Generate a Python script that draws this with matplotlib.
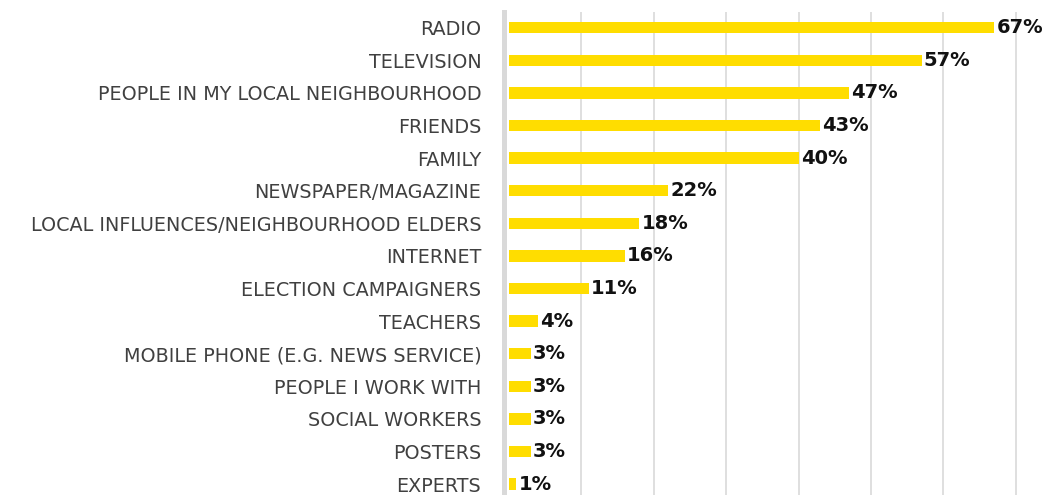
import matplotlib.pyplot as plt

plt.rcParams['font.family'] = ['DejaVu Sans']

# sources of information (share of respondents, %)
categories = ['RADIO', 'TELEVISION', 'PEOPLE IN MY LOCAL NEIGHBOURHOOD', 'FRIENDS',
              'FAMILY', 'NEWSPAPER/MAGAZINE', 'LOCAL INFLUENCES/NEIGHBOURHOOD ELDERS',
              'INTERNET', 'ELECTION CAMPAIGNERS', 'TEACHERS',
              'MOBILE PHONE (E.G. NEWS SERVICE)', 'PEOPLE I WORK WITH',
              'SOCIAL WORKERS', 'POSTERS', 'EXPERTS']
values = [67, 57, 47, 43, 40, 22, 18, 16, 11, 4, 3, 3, 3, 3, 1]
value_labels = [f'{v}%' for v in values]

W, H = 1060, 495
fig = plt.figure(figsize=(W / 100, H / 100), dpi=100)

# axes box in pixels: left spine ~503px, top ~12px, runs to bottom/right edges
px_left, px_top = 503.5, 12
ax = fig.add_axes([px_left / W, 0, 1 - px_left / W, 1 - px_top / H])

pos = list(range(len(categories)))
ax.barh(pos, values, height=0.35, color='#FFDD00', zorder=3)

for p, v, lab in zip(pos, values, value_labels):
    ax.text(v + 0.3, p, lab, va='center', ha='left', fontsize=14,
            fontweight='bold', color='#111111', zorder=4)

px_per_unit = 7.24
ax.set_xlim(-(509 - px_left) / px_per_unit, (W - 509) / px_per_unit)
ax.set_ylim(14 + 11 / 32.6, -0.48)

ax.set_xticks(range(10, 80, 10))
ax.xaxis.grid(True, color='#d9d9d9', linewidth=1.2, zorder=0)
ax.tick_params(axis='x', length=0, labelbottom=False)

ax.set_yticks(pos)
ax.set_yticklabels(categories, fontsize=13.8, color='#404040')
ax.tick_params(axis='y', length=0, pad=16)

for s in ['top', 'right', 'bottom']:
    ax.spines[s].set_visible(False)
ax.spines['left'].set_color('#d9d9d9')
ax.spines['left'].set_linewidth(3.6)

fig.savefig('out.png', dpi=100)
